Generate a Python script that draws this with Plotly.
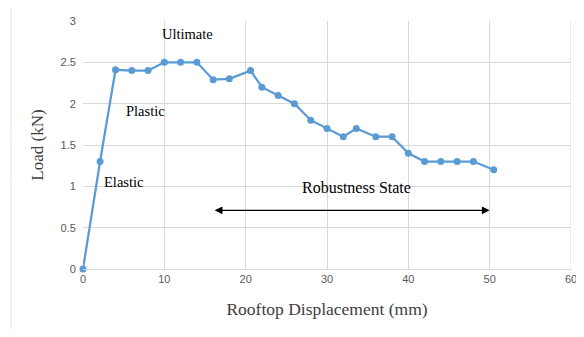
import plotly.graph_objects as go

displacement = [0, 2.1, 4, 6, 8, 10, 12, 14, 16, 18, 20.6, 22, 24, 26, 28, 30, 32, 33.6, 36, 38, 40, 42, 44, 46, 48, 50.5]
load = [0, 1.3, 2.41, 2.4, 2.4, 2.5, 2.5, 2.5, 2.29, 2.3, 2.4, 2.2, 2.1, 2.0, 1.8, 1.7, 1.6, 1.7, 1.6, 1.6, 1.4, 1.3, 1.3, 1.3, 1.3, 1.2]

labels = ["Ultimate", "Plastic", "Elastic", "Robustness State"]
label_x = [12.8, 7.7, 5.0, 33.6]
label_y = [2.84, 1.91, 1.05, 0.98]
label_size = [14.5, 14.5, 14.5, 16]
arrow_x = [16, 50]
arrow_y = 0.71
x_range = [0, 60]
y_range = [0, 3]

# page body has an 8px margin on every side; keep the page inside the window
W, H = 568, 321
L, T = 75, 13
PW, PH = 488, 248
R, B = W - L - PW, H - T - PH

fig = go.Figure()
fig.add_trace(go.Scatter(
    x=displacement, y=load, mode="lines+markers",
    line=dict(color="#5B9BD5", width=2.25),
    marker=dict(color="#5B9BD5", size=7),
    showlegend=False, cliponaxis=False,
))

for t, x, y, s in zip(labels, label_x, label_y, label_size):
    fig.add_annotation(x=x, y=y, text=t, showarrow=False,
                       font=dict(family="Liberation Serif", size=s, color="#000000"))

# double-headed arrow
fig.add_annotation(x=arrow_x[1], y=arrow_y, ax=arrow_x[0], ay=arrow_y,
                   xref="x", yref="y", axref="x", ayref="y",
                   showarrow=True, arrowhead=2, arrowside="end+start",
                   arrowsize=1.2, arrowwidth=1.3, arrowcolor="#000000", text="")

# gridline at the right end of the x axis
fig.add_shape(type="line", xref="x", yref="y",
              x0=x_range[1], x1=x_range[1], y0=y_range[0], y1=y_range[1],
              line=dict(color="#d9d9d9", width=1), layer="below")

# faint outer frame (left edge)
fig.add_shape(type="line", xref="paper", yref="paper",
              x0=(3 - L) / PW, x1=(3 - L) / PW,
              y0=-B / PH, y1=(PH + T) / PH,
              line=dict(color="#e3e3e3", width=1), layer="below")

fig.update_layout(
    width=W, height=H,
    margin=dict(l=L, r=R, t=T, b=B, autoexpand=False),
    paper_bgcolor="white", plot_bgcolor="white",
    xaxis=dict(
        range=x_range, dtick=10, tick0=0, automargin=False,
        ticklabeloverflow="allow",
        showgrid=True, gridcolor="#d9d9d9", gridwidth=1,
        zeroline=False, showline=True, linecolor="#d9d9d9",
        ticks="", tickfont=dict(family="Liberation Sans", size=11, color="#595959"),
        title=dict(text="Rooftop Displacement (mm)", standoff=18,
                   font=dict(family="Liberation Serif", size=17.5, color="#404040")),
    ),
    yaxis=dict(
        range=y_range, dtick=0.5, tick0=0, automargin=False,
        ticklabeloverflow="allow",
        showgrid=True, gridcolor="#d9d9d9", gridwidth=1,
        zeroline=False, showline=False,
        ticks="", tickfont=dict(family="Liberation Sans", size=11, color="#595959"),
        ticksuffix="  ",
        title=dict(text="Load (kN)", standoff=12,
                   font=dict(family="Liberation Serif", size=17, color="#404040")),
    ),
)

fig.write_html("out.html")
